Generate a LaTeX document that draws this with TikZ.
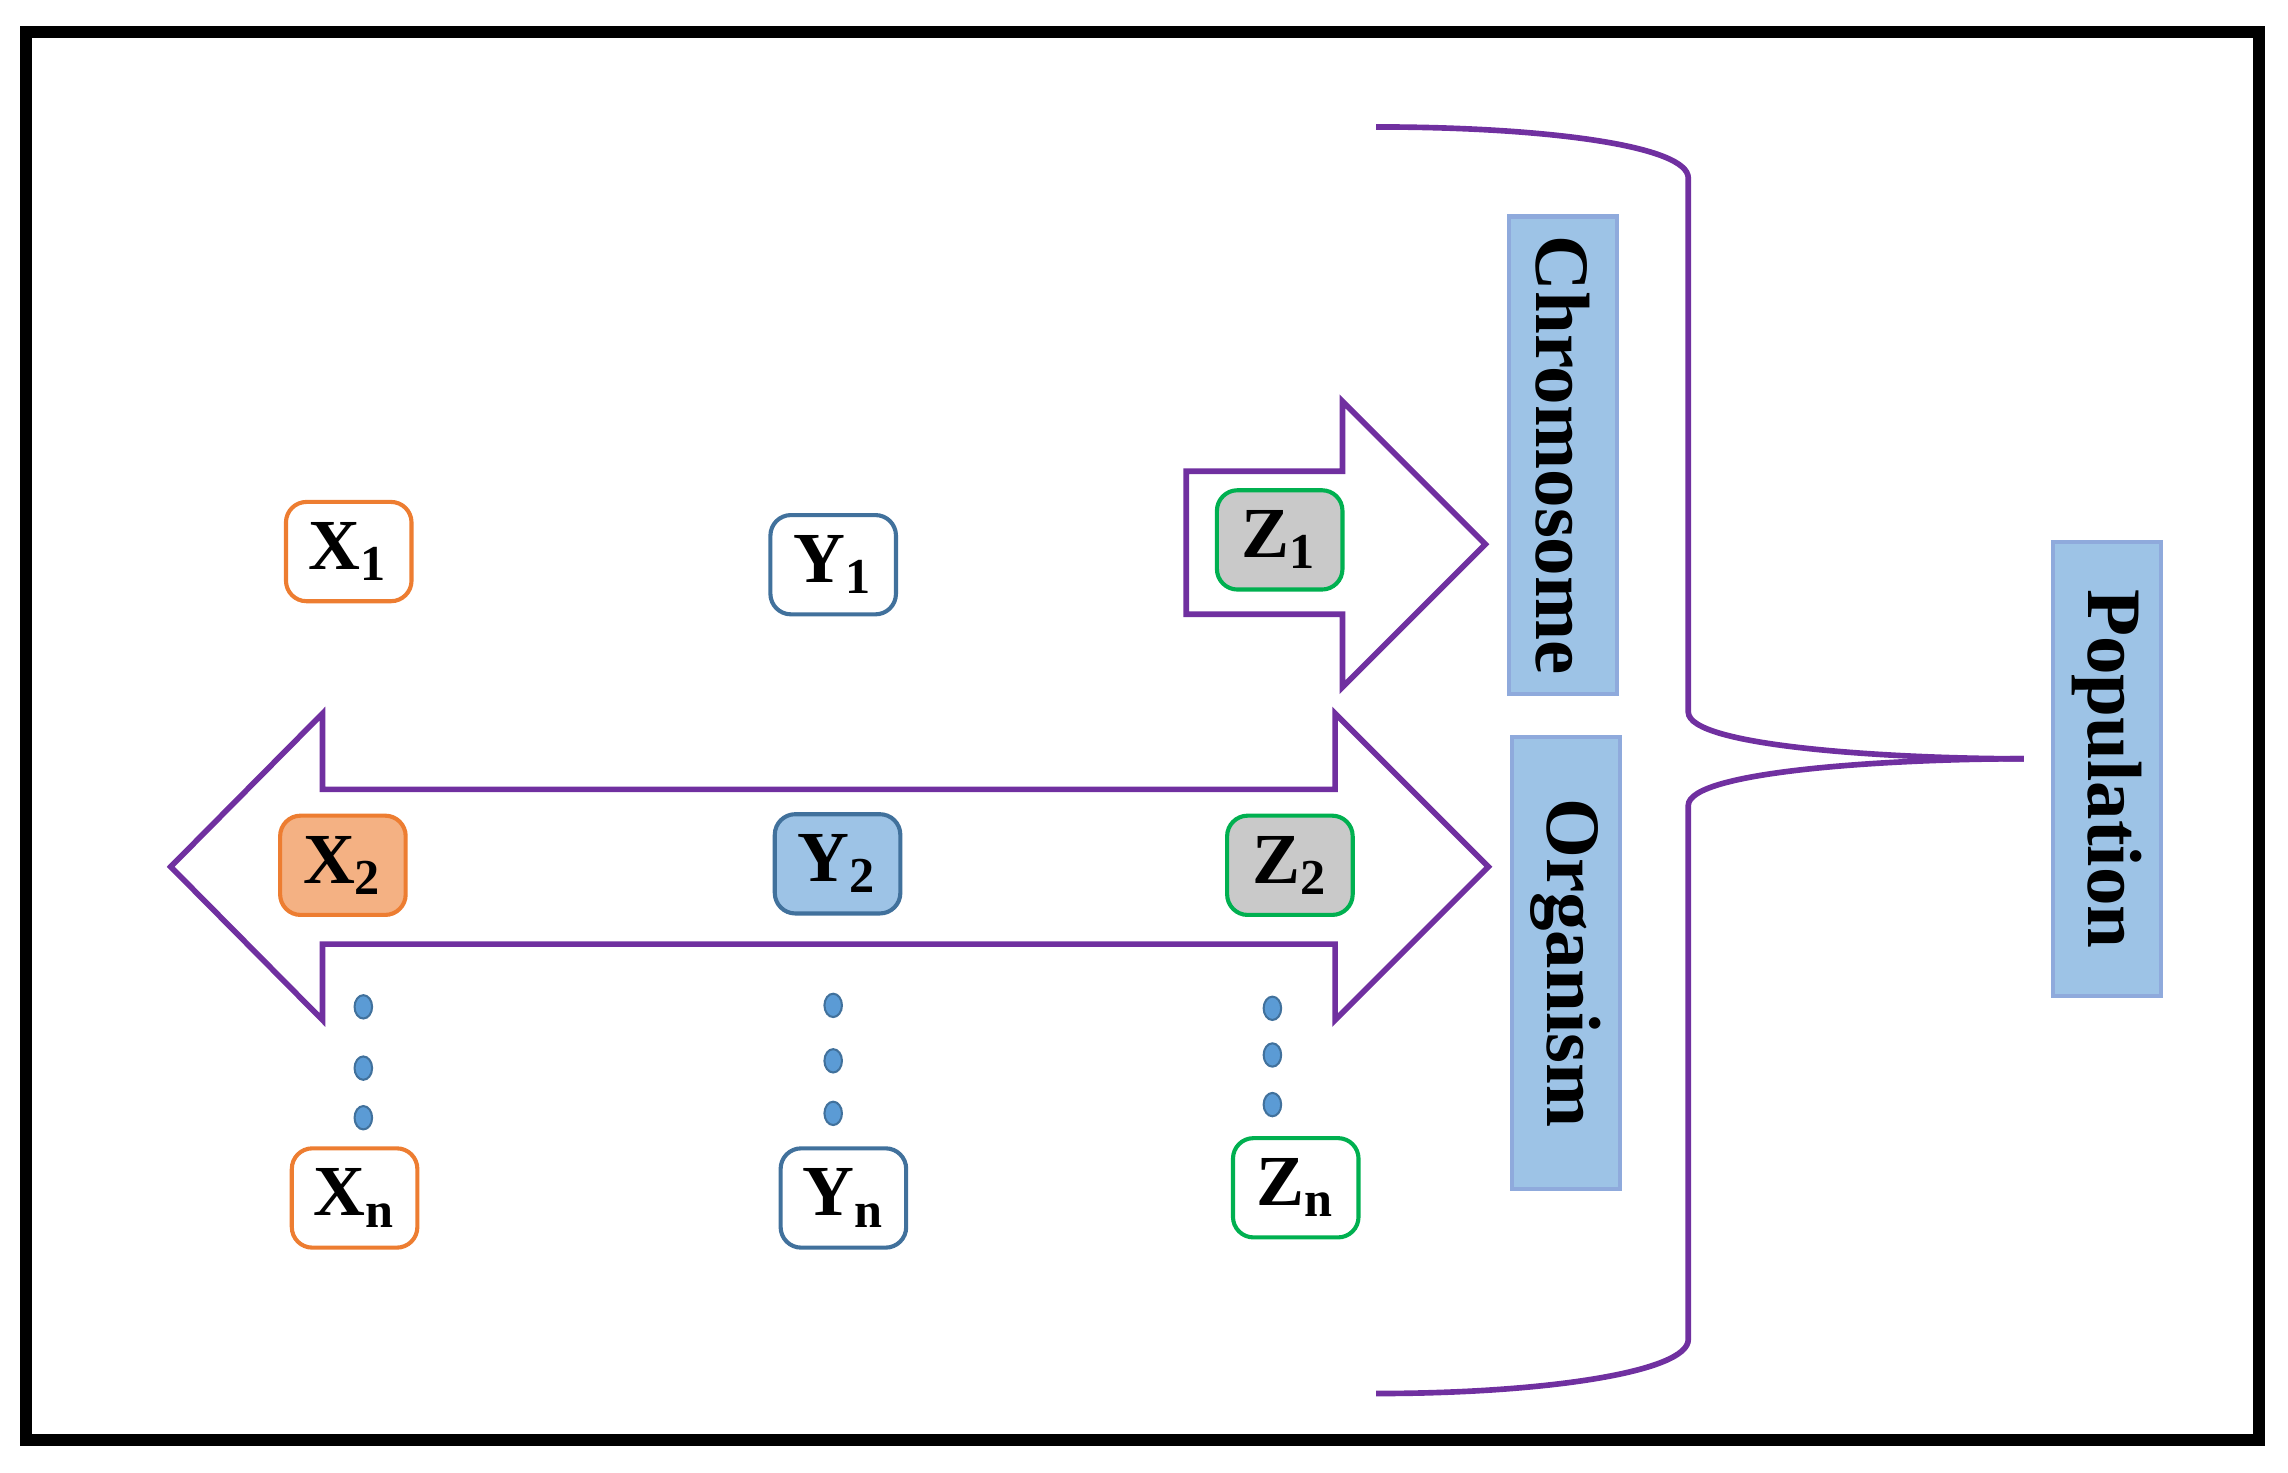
\documentclass[tikz,border=0pt]{standalone}
\usepackage{fontspec}
\setmainfont{Liberation Serif}
\usetikzlibrary{shapes.geometric}
\definecolor{pur}{HTML}{7030A0}
\definecolor{lb}{HTML}{9DC3E6}
\definecolor{lbb}{HTML}{8FAADC}
\definecolor{orb}{HTML}{ED7D31}
\definecolor{orf}{HTML}{F4B183}
\definecolor{blb}{HTML}{41719C}
\definecolor{grb}{HTML}{00B050}
\definecolor{grf}{HTML}{C9C9C9}
\definecolor{dotc}{HTML}{5B9BD5}
\begin{document}
\begin{tikzpicture}[x=0.01cm,y=-0.01cm,
 box/.style={draw,rounded corners=4pt,line width=0.8pt,minimum width=0.86cm,minimum height=0.68cm,inner sep=0pt,font=\fontsize{14}{14}\selectfont\bfseries},
 lab/.style={draw=lbb,fill=lb,line width=0.8pt,inner sep=0pt,font=\fontsize{15}{15}\selectfont\bfseries},
 dot/.style={ellipse,draw=blb,fill=dotc,minimum width=0.12cm,minimum height=0.16cm,inner sep=0pt},
 arr/.style={draw=pur,line width=1.1pt,fill=white}]
\useasboundingbox (0,0) rectangle (1568,1009);
\draw[line width=2.4pt] (18,22) rectangle (1548,987);
% brace
\draw[pur,line width=1.1pt] (943,87) .. controls (1060,87) and (1157,100) .. (1157,122) -- (1157,488)
  .. controls (1157,512) and (1300,520) .. (1387,520);
\draw[pur,line width=1.1pt] (1387,520) .. controls (1300,520) and (1157,528) .. (1157,552) -- (1157,918)
  .. controls (1157,940) and (1060,955) .. (943,955);
% arrows
\draw[arr] (813,323) -- (920,323) -- (920,275) -- (1018,373) -- (920,471) -- (920,421) -- (813,421) -- cycle;
\draw[arr] (117,594) -- (221,489) -- (221,541) -- (915,541) -- (915,489) -- (1020,594) -- (915,699) -- (915,647) -- (221,647) -- (221,699) -- cycle;
% labels
\node[lab,minimum width=0.74cm,minimum height=3.27cm] (chr) at (1071,312) {\rotatebox{-90}{Chromosome}};
\node[lab,minimum width=0.74cm,minimum height=3.10cm] (org) at (1073,660) {\rotatebox{-90}{Organism}};
\node[lab,minimum width=0.74cm,minimum height=3.11cm] (pop) at (1444,527) {\rotatebox{-90}{Population}};
% boxes
\node[box,draw=orb,fill=white] (x1) at (239,378) {X$_{\mathbf 1}$};
\node[box,draw=blb,fill=white] (y1) at (571,387) {Y$_{\mathbf 1}$};
\node[box,draw=grb,fill=grf] (z1) at (877,370) {Z$_{\mathbf 1}$};
\node[box,draw=orb,fill=orf] (x2) at (235,593) {X$_{\mathbf 2}$};
\node[box,draw=blb,fill=lb] (y2) at (574,592) {Y$_{\mathbf 2}$};
\node[box,draw=grb,fill=grf] (z2) at (884,593) {Z$_{\mathbf 2}$};
\node[box,draw=orb,fill=white] (xn) at (243,821) {X$_{\mathbf n}$};
\node[box,draw=blb,fill=white] (yn) at (578,821) {Y$_{\mathbf n}$};
\node[box,draw=grb,fill=white] (zn) at (888,814) {Z$_{\mathbf n}$};
% dots
\foreach \x/\a/\b/\c [count=\i] in {249/690/732/766, 571/689/727/763, 872/691/723/757}{
 \node[dot] (d\i a) at (\x,\a) {}; \node[dot] (d\i b) at (\x,\b) {}; \node[dot] (d\i c) at (\x,\c) {};}
\end{tikzpicture}
\end{document}
